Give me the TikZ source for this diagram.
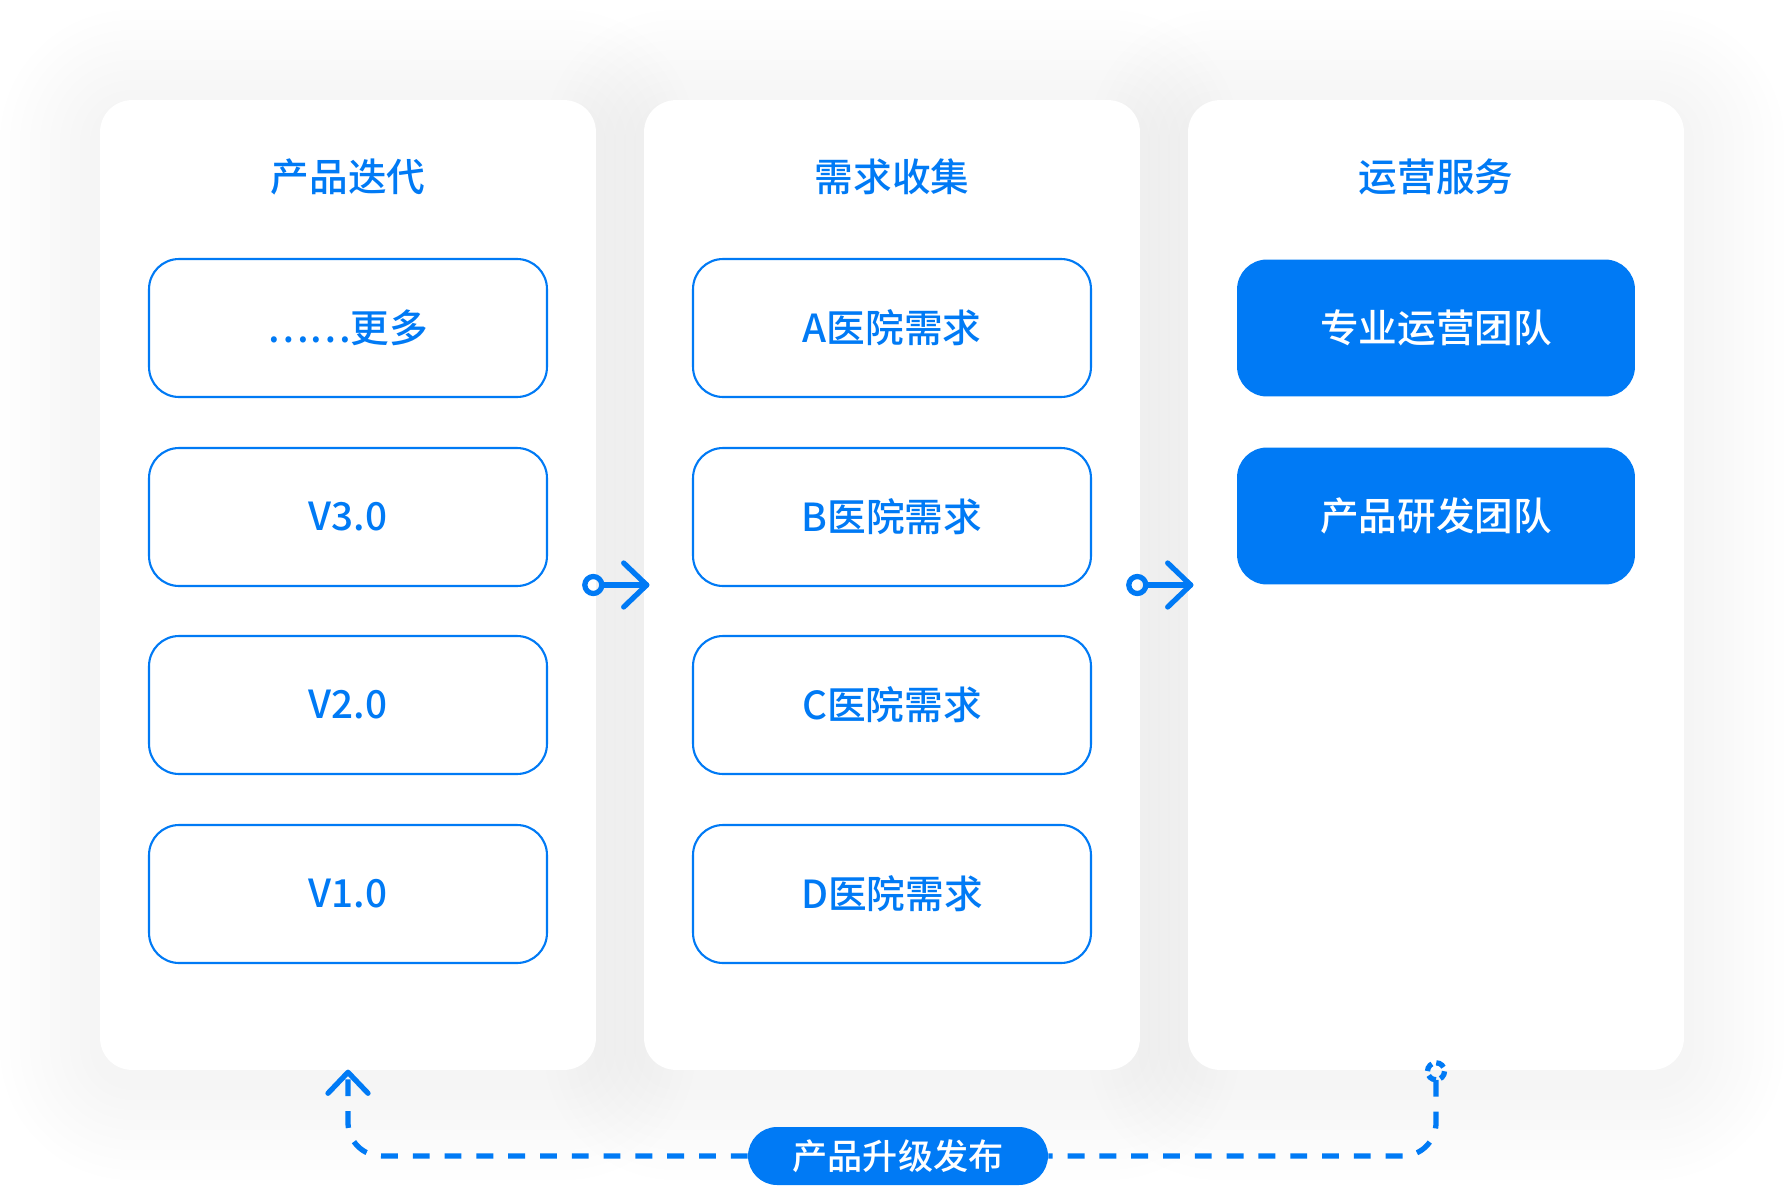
\documentclass[tikz,border=0pt]{standalone}
\usepackage{fontspec}
\setmainfont{Noto Sans CJK SC}
\IfFontExistsTF{Noto Sans CJK SC Medium}
	{\newfontfamily\medfont{Noto Sans CJK SC Medium}}
	{\newfontfamily\medfont{Noto Sans CJK SC}[FakeBold=1.2]}
\usetikzlibrary{calc}
\definecolor{brandblue}{RGB}{0,122,245}
\tikzset{
	panel/.style={fill=white, rounded corners=0.64cm, minimum width=9.92cm, minimum height=19.4cm, inner sep=0pt},
	coltitle/.style={text=brandblue, font=\medfont\fontsize{22}{26}\selectfont},
	itembox/.style={draw=brandblue, line width=1.2pt, fill=white, rounded corners=0.6cm, minimum width=7.96cm, minimum height=2.76cm, text=brandblue, font=\medfont\fontsize{22}{26}\selectfont},
	teambox/.style={fill=brandblue, rounded corners=0.6cm, minimum width=7.96cm, minimum height=2.74cm, text=white, font=\medfont\fontsize{22}{26}\selectfont},
	flow/.style={draw=brandblue, line width=3pt, line cap=round, line join=round},
	flowdash/.style={draw=brandblue, line width=3pt, line cap=butt, dash pattern=on 9.6pt off 8.5pt},
	releasepill/.style={fill=brandblue, rounded corners=0.58cm, minimum width=6cm, minimum height=1.16cm, text=white, font=\medfont\fontsize{20}{24}\selectfont}
}

\begin{document}
\begin{tikzpicture}[x=0.02cm, y=-0.02cm]
			%%%%% START %%%%%
			\useasboundingbox (0,0) rectangle (1784,1186);
			\fill[white] (0,0) rectangle (1784,1186);
			
			% soft shadow behind the columns
			\foreach \cx in {348,892,1436}{
				\foreach \i in {1,...,10}{
					\pgfmathsetmacro\rr{(32+10*\i)*0.567}
					\fill[black, opacity=0.005, rounded corners=\rr pt] (\cx-248-10*\i, 110-10*\i) rectangle (\cx+248+10*\i, 1080+10*\i);
				}
			}
			
			\node[panel] (iter) at (348,585) {};
			\node[panel] (demand) at (892,585) {};
			\node[panel] (ops) at (1436,585) {};
			
			\node[coltitle] (iterTitle) at (348,177) {产品迭代};
			\node[coltitle] (demandTitle) at (892,177) {需求收集};
			\node[coltitle] (opsTitle) at (1436,177) {运营服务};
			
			\node[itembox] (more) at (348,328) {……更多};
			\node[itembox] (v3) at (348,517) {V3.0};
			\node[itembox] (v2) at (348,705) {V2.0};
			\node[itembox] (v1) at (348,894) {V1.0};
			
			\node[itembox] (needA) at (892,328) {A医院需求};
			\node[itembox] (needB) at (892,517) {B医院需求};
			\node[itembox] (needC) at (892,705) {C医院需求};
			\node[itembox] (needD) at (892,894) {D医院需求};
			
			\node[teambox] (opsTeam) at (1436,328) {专业运营团队};
			\node[teambox] (devTeam) at (1436,516) {产品研发团队};
			
			% arrows between the columns
			\coordinate (a1s) at ($(iter.east)+(-3,0)$);
			\coordinate (a1e) at ($(demand.west)+(3,0)$);
			\draw[flow] (a1s) circle (8.5);
			\draw[flow] ($(a1s)+(8.5,0)$) -- (a1e);
			\draw[flow] ($(a1e)+(-23,-22)$) -- (a1e) -- ($(a1e)+(-23,22)$);
			
			\coordinate (a2s) at ($(demand.east)+(-3,0)$);
			\coordinate (a2e) at ($(ops.west)+(3,0)$);
			\draw[flow] (a2s) circle (8.5);
			\draw[flow] ($(a2s)+(8.5,0)$) -- (a2e);
			\draw[flow] ($(a2e)+(-23,-22)$) -- (a2e) -- ($(a2e)+(-23,22)$);
			
			% release loop back to the first column
			\node[releasepill] (release) at (898,1156) {产品升级发布};
			\coordinate (upStart) at ($(ops.south)+(0,1)$);
			\coordinate (upEnd) at ($(iter.south)+(0,2)$);
			\draw[flowdash, dash pattern=on 5pt off 2.6pt] (upStart) circle (8.5);
			\draw[flowdash, rounded corners=19pt] ($(upStart)+(0,8.5)$) |- (release.east);
			\draw[flowdash, rounded corners=19pt] (release.west) -| (upEnd);
			\draw[flow] ($(upEnd)+(-20,21)$) -- (upEnd) -- ($(upEnd)+(20,21)$);
			
			%%%%% END %%%%%
\end{tikzpicture}
\end{document}
